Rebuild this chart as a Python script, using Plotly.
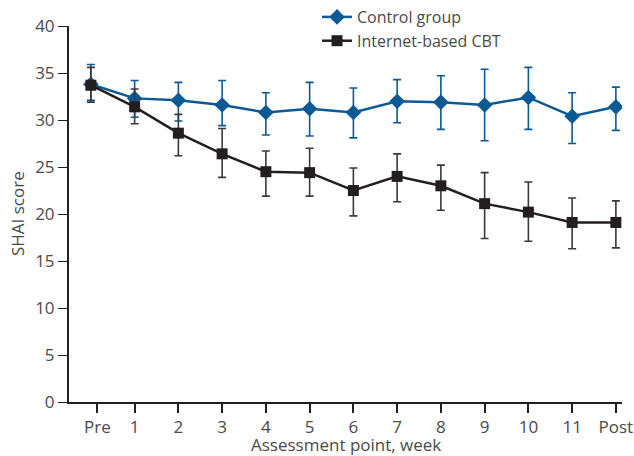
import plotly.graph_objects as go

categories = ["Pre", "1", "2", "3", "4", "5", "6", "7", "8", "9", "10", "11", "Post"]
x_index = list(range(len(categories)))

control_mean = [33.8, 32.3, 32.1, 31.6, 30.8, 31.2, 30.8, 32.0, 31.9, 31.6, 32.4, 30.4, 31.4]
control_upper = [35.9, 34.2, 34.0, 34.2, 32.9, 34.0, 33.4, 34.3, 34.7, 35.4, 35.6, 32.9, 33.5]
control_lower = [32.1, 30.3, 29.9, 29.4, 28.4, 28.3, 28.1, 29.7, 29.0, 27.8, 29.0, 27.5, 28.9]

cbt_mean = [33.7, 31.4, 28.6, 26.4, 24.5, 24.4, 22.5, 24.0, 23.0, 21.1, 20.2, 19.1, 19.1]
cbt_upper = [35.6, 33.3, 30.6, 29.1, 26.7, 27.0, 24.9, 26.4, 25.2, 24.4, 23.4, 21.7, 21.4]
cbt_lower = [31.9, 29.6, 26.2, 23.9, 21.9, 21.9, 19.8, 21.3, 20.4, 17.4, 17.1, 16.3, 16.4]

y_ticks = [0, 5, 10, 15, 20, 25, 30, 35, 40]

# in the original, the "Pre" tick sits slightly right of its markers
tick_positions = [i + (0.15 if i == 0 else 0) for i in x_index]

BLUE = "#0b5a96"
BLACK = "#231f20"
TEXT = "#4a4a4a"
FONT = "Open Sans"
FS = 17

fig = go.Figure()

fig.add_trace(go.Scatter(
    x=x_index, y=control_mean, name="Control group", mode="lines+markers",
    line=dict(color=BLUE, width=2.5),
    marker=dict(symbol="diamond", size=12, color=BLUE),
    error_y=dict(type="data", symmetric=False,
                 array=[u - m for u, m in zip(control_upper, control_mean)],
                 arrayminus=[m - l for m, l in zip(control_mean, control_lower)],
                 color=BLUE, thickness=1.6, width=4),
))
fig.add_trace(go.Scatter(
    x=x_index, y=cbt_mean, name="Internet-based CBT", mode="lines+markers",
    line=dict(color=BLACK, width=2.5),
    marker=dict(symbol="square", size=11, color=BLACK),
    error_y=dict(type="data", symmetric=False,
                 array=[u - m for u, m in zip(cbt_upper, cbt_mean)],
                 arrayminus=[m - l for m, l in zip(cbt_mean, cbt_lower)],
                 color="#3a3a3a", thickness=1.6, width=4),
))

fig.update_layout(
    width=634, height=456,
    margin=dict(l=69, r=12, t=26, b=54, autoexpand=False),
    paper_bgcolor="white", plot_bgcolor="white",
    font=dict(family=FONT, size=FS, color=TEXT),
    showlegend=True,
    legend=dict(x=0.5, y=1.0, xref="container", yref="container",
                xanchor="left", yanchor="top",
                bgcolor="rgba(0,0,0,0)", font=dict(size=16, color=TEXT),
                tracegroupgap=0),
    xaxis=dict(
        range=[-0.5, 12.14], tickmode="array", tickvals=tick_positions, ticktext=categories,
        showgrid=False, zeroline=False, showline=True, linecolor=BLACK, linewidth=2,
        ticks="outside", ticklen=9, tickwidth=1.5, tickcolor=BLACK,
        tickfont=dict(size=FS, color=TEXT),
    ),
    yaxis=dict(
        range=[0, 40], tickmode="array", tickvals=y_ticks,
        showgrid=False, zeroline=False, showline=True, linecolor=BLACK, linewidth=2,
        ticks="outside", ticklen=9, tickwidth=1.2, tickcolor=BLACK,
        tickfont=dict(size=FS, color=TEXT),
    ),
    annotations=[
        dict(text="Assessment point, week", xref="paper", yref="paper",
             x=0.5, y=-0.114, xanchor="center", yanchor="middle",
             showarrow=False, font=dict(size=FS, color=TEXT)),
        dict(text="SHAI score", xref="paper", yref="paper",
             x=-0.094, y=0.5, xanchor="center", yanchor="middle", textangle=-90,
             showarrow=False, font=dict(size=FS, color=TEXT)),
    ],
)

fig.write_html("out.html", config={"displayModeBar": False},
               post_script="document.body.style.margin='0';")
